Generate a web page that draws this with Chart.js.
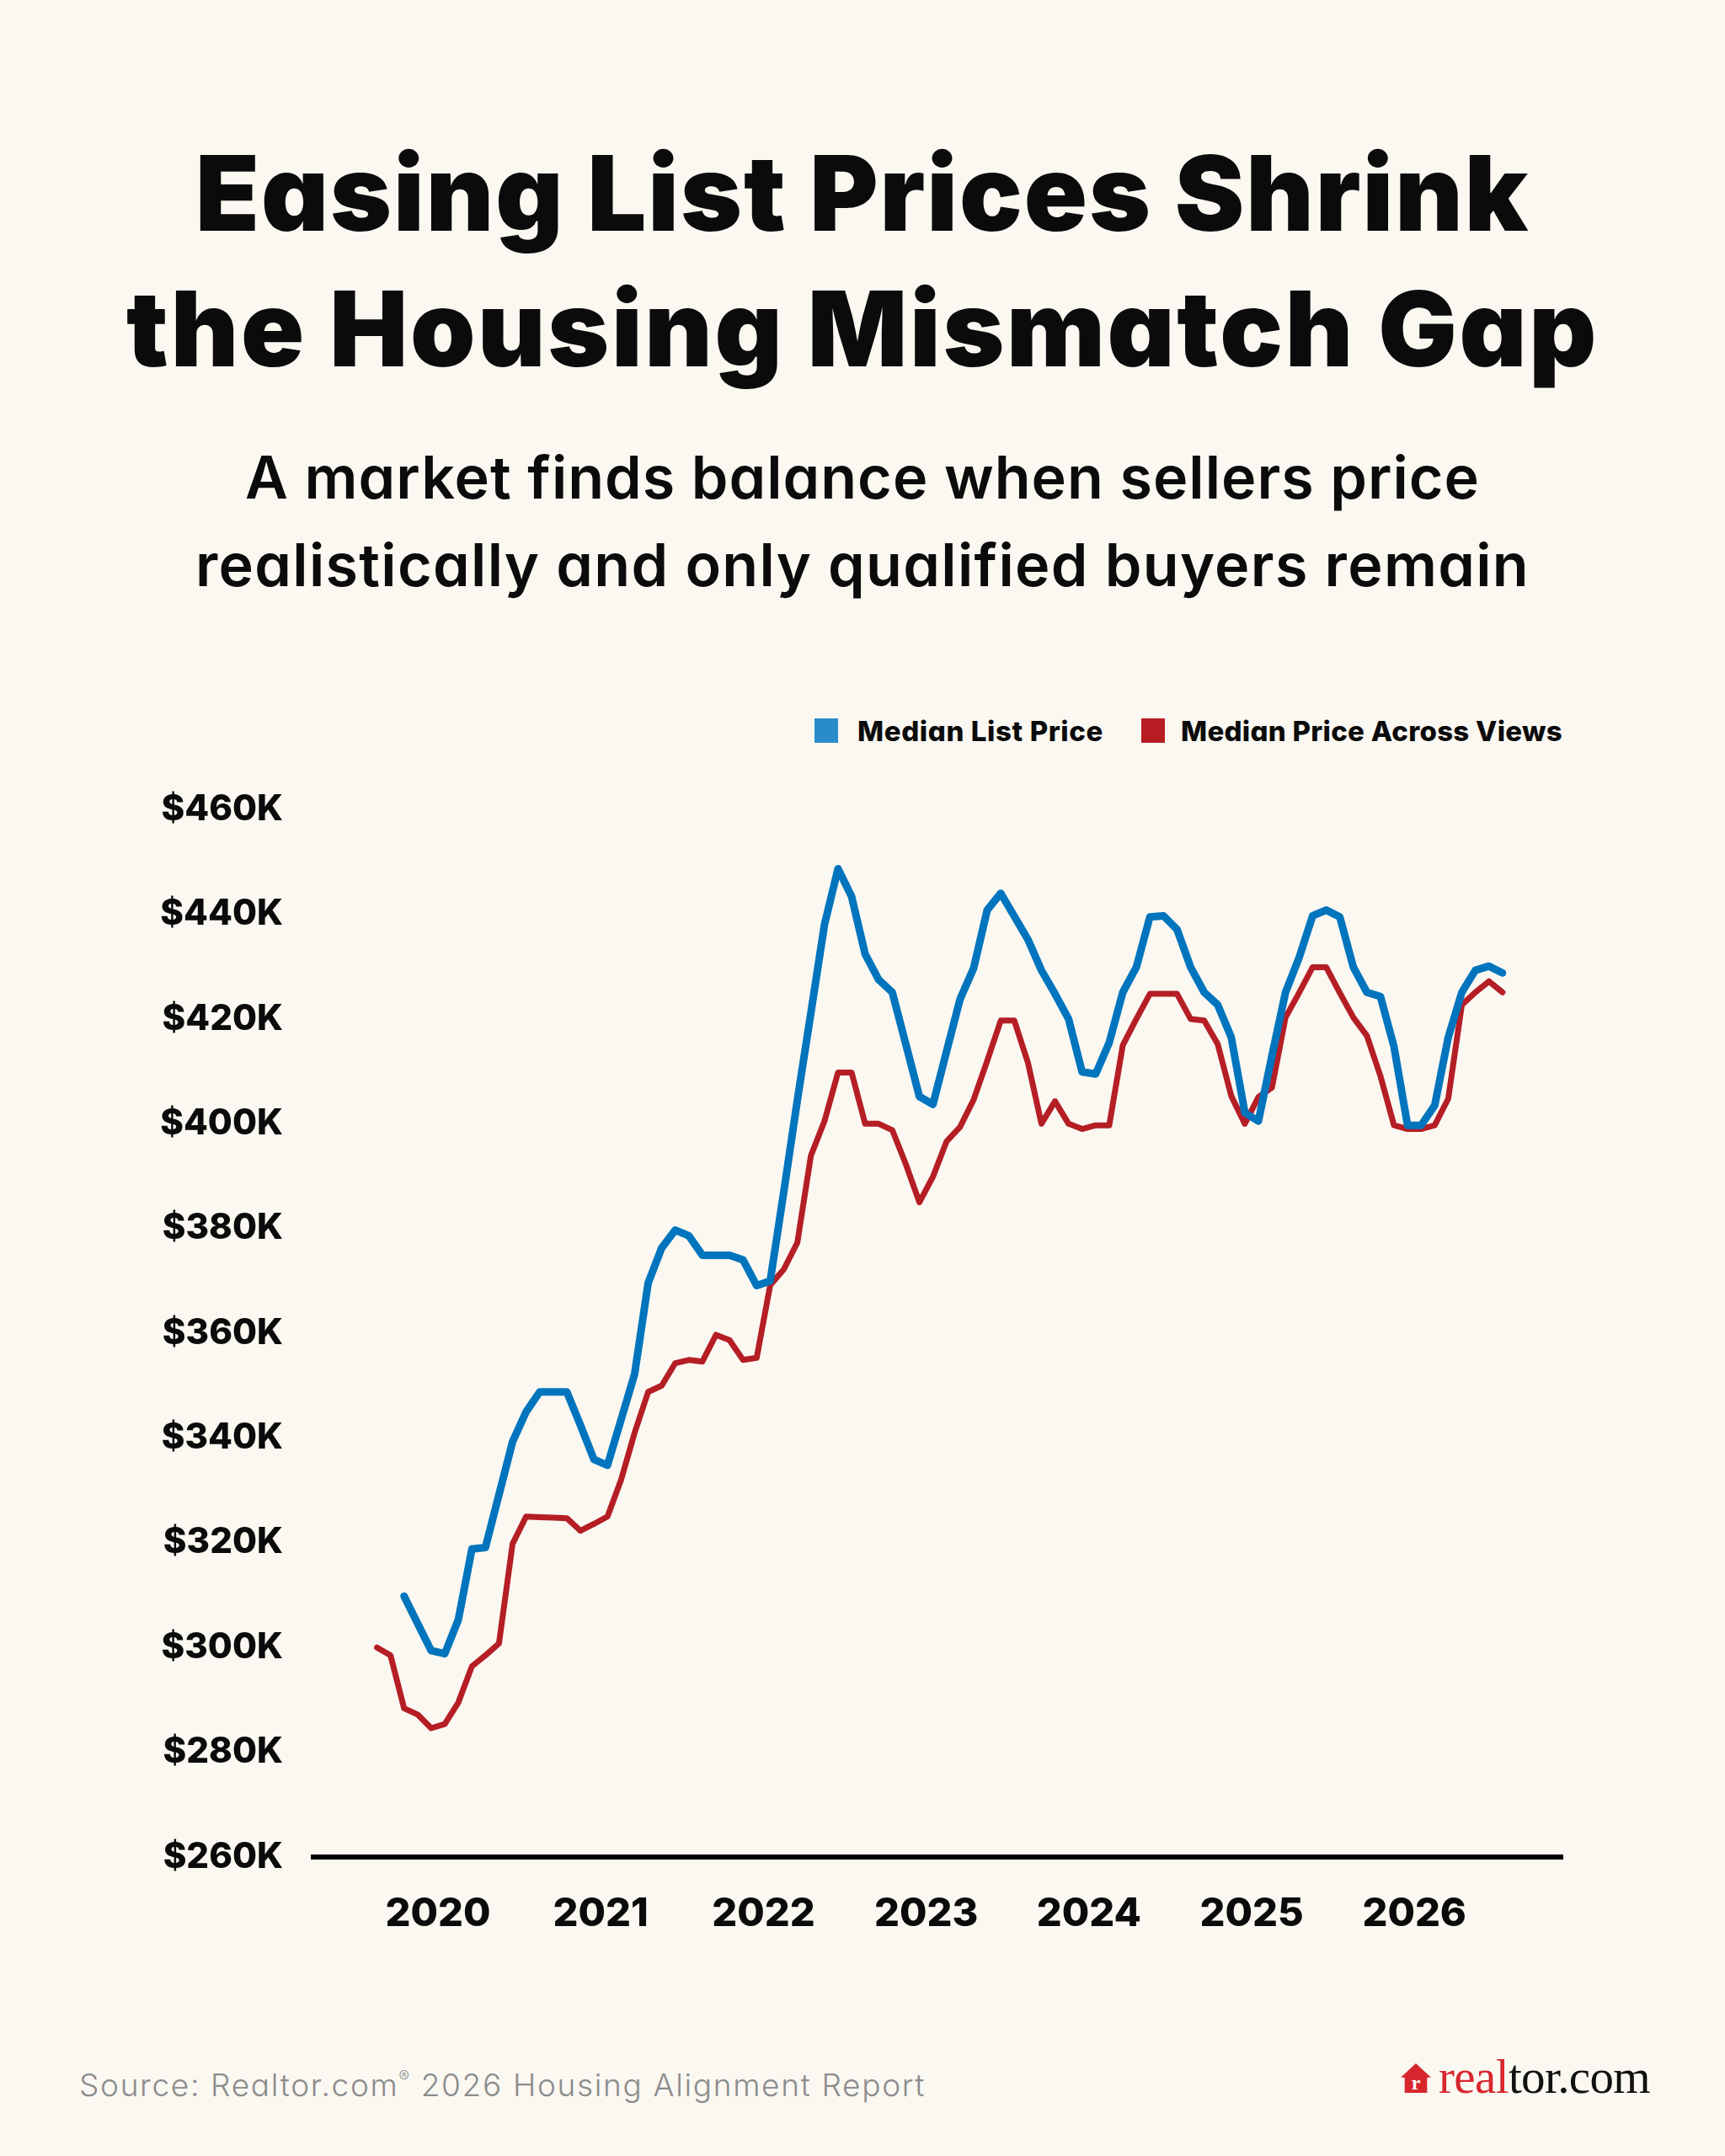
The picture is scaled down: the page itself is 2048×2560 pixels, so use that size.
<!DOCTYPE html>
<html>
<head>
<meta charset="utf-8">
<title>Easing List Prices Shrink the Housing Mismatch Gap</title>
<script src="https://cdn.jsdelivr.net/npm/chart.js@4.4.1/dist/chart.umd.min.js"></script>
<style>
  html, body { margin: 0; padding: 0; }
  body {
    width: 2048px; height: 2560px; position: relative; overflow: hidden;
    background: #FBF8F2; color: #0b0b0b;
    font-family: Inter, 'Noto Sans', sans-serif;
    font-feature-settings: 'cv11';
  }
  .line { position: absolute; left: 0; width: 2048px; text-align: center; line-height: 1; white-space: nowrap; }
  .line span { display: inline-block; }
  .title { font-size: 124px; font-weight: 900; }
  .sub { font-size: 70px; font-weight: 600; }
  .abs { position: absolute; line-height: 1; white-space: nowrap; }
  .legend-box { position: absolute; width: 28px; height: 29px; }
  .legend-text { font-size: 33px; font-weight: 800; }
  .source { font-size: 37px; font-weight: 300; color: #8c8c8c; }
  .source sup { font-size: 0.5em; vertical-align: 0.9em; }
  .logo-icon {
    position: absolute; left: 1663px; top: 2450px; width: 36px; height: 35px;
    background: #D7262D;
    clip-path: polygon(50% 0, 100% 48%, 87% 48%, 87% 100%, 13% 100%, 13% 48%, 0 48%);
    color: #fff; font: bold 24px 'Liberation Serif', serif; text-align: center; line-height: 46px;
  }
  .logo { font-family: 'Liberation Serif', 'DejaVu Serif', serif; font-size: 57px; }
  .logo .red { color: #D7262D; }
  .logo .blk { color: #111; }
  #chartWrap { position: absolute; left: 0; top: 900px; width: 1900px; height: 1400px; }
</style>
</head>
<body>

<div class="line title" style="top:167px"><span data-w="1584">Easing List Prices Shrink</span></div>
<div class="line title" style="top:328px"><span data-w="1748">the Housing Mismatch Gap</span></div>
<div class="line sub" style="top:532px"><span data-w="1466">A market finds balance when sellers price</span></div>
<div class="line sub" style="top:636px"><span data-w="1584">realistically and only qualified buyers remain</span></div>

<div class="legend-box" style="left:967px; top:853px; background:#2A8BCB"></div>
<div class="abs legend-text" style="left:1018px; top:852px" data-w="292">Median List Price</div>
<div class="legend-box" style="left:1355px; top:853px; background:#B71C22"></div>
<div class="abs legend-text" style="left:1402px; top:852px" data-w="453">Median Price Across Views</div>

<div id="chartWrap"><canvas id="priceChart" width="1900" height="1400"></canvas></div>

<div class="abs source" style="left:94px; top:2456px" data-w="1005">Source: Realtor.com<sup>®</sup> 2026 Housing Alignment Report</div>
<div class="logo-icon">r</div>
<div class="abs logo" style="left:1708px; top:2437px" data-w="251"><span class="red">real</span><span class="blk">tor.com</span></div>

<script>
// months of the monthly series (Aug 2019 - Jul 2026)
const months = [
  '2019-08','2019-09','2019-10','2019-11','2019-12',
  '2020-01','2020-02','2020-03','2020-04','2020-05','2020-06','2020-07','2020-08','2020-09','2020-10','2020-11','2020-12',
  '2021-01','2021-02','2021-03','2021-04','2021-05','2021-06','2021-07','2021-08','2021-09','2021-10','2021-11','2021-12',
  '2022-01','2022-02','2022-03','2022-04','2022-05','2022-06','2022-07','2022-08','2022-09','2022-10','2022-11','2022-12',
  '2023-01','2023-02','2023-03','2023-04','2023-05','2023-06','2023-07','2023-08','2023-09','2023-10','2023-11','2023-12',
  '2024-01','2024-02','2024-03','2024-04','2024-05','2024-06','2024-07','2024-08','2024-09','2024-10','2024-11','2024-12',
  '2025-01','2025-02','2025-03','2025-04','2025-05','2025-06','2025-07','2025-08','2025-09','2025-10','2025-11','2025-12',
  '2026-01','2026-02','2026-03','2026-04','2026-05','2026-06','2026-07'
];

// Median List Price ($K)
const listPrice = [
  null, null, 309.8, 304.6, 299.4,
  298.8, 305.3, 318.8, 319.1, 329.2, 339.3, 345.0, 348.8, 348.8, 348.8, 342.5, 335.9,
  334.8, 343.5, 352.2, 369.6, 376.3, 379.7, 378.6, 374.9, 374.9, 374.9, 374.0, 369.1,
  370.0, 387.0, 404.5, 421.2, 438.0, 448.7, 443.4, 432.4, 427.5, 425.1, 415.2, 405.2,
  403.7, 413.8, 423.8, 429.7, 440.8, 444.0, 439.6, 435.2, 429.3, 424.8, 420.0, 409.9,
  409.5, 415.5, 425.1, 429.9, 439.5, 439.7, 437.1, 429.9, 425.1, 422.7, 416.5, 402.1,
  400.5, 413.0, 425.1, 431.7, 439.7, 440.8, 439.5, 429.9, 425.1, 424.3, 414.7, 399.7,
  399.7, 403.5, 416.5, 425.1, 429.3, 430.1, 428.8
];

// Median Price Across Views ($K)
const viewPrice = [
  300.0, 298.5, 288.4, 287.2, 284.6,
  285.4, 289.5, 296.4, 298.5, 300.8, 319.8, 325.0, 324.9, 324.8, 324.7, 322.3, 323.6,
  325.0, 332.0, 341.0, 348.8, 350.0, 354.3, 354.9, 354.6, 359.7, 358.7, 354.9, 355.3,
  369.2, 372.2, 377.3, 393.9, 400.5, 409.8, 409.8, 400.0, 400.0, 398.8, 392.3, 385.0,
  389.9, 396.6, 399.4, 404.6, 412.0, 419.7, 419.7, 411.7, 400.0, 404.3, 400.0, 399.0,
  399.7, 399.7, 415.0, 420.0, 424.8, 424.8, 424.8, 420.0, 419.7, 415.2, 405.3, 400.0,
  405.1, 406.9, 420.3, 425.0, 429.9, 429.9, 425.0, 420.3, 416.8, 409.1, 399.7, 399.0,
  399.0, 399.7, 404.8, 422.7, 425.1, 427.2, 425.1
];

const yearTicks = [2020, 2021, 2022, 2023, 2024, 2025, 2026];

// a month sits in the middle of its slot on a year axis
function monthPos(m) {
  const [y, mo] = m.split('-').map(Number);
  return y + (mo - 0.5) / 12;
}

function fitWidths() {
  document.querySelectorAll('[data-w]').forEach(el => {
    const target = +el.dataset.w;
    const n = el.textContent.length;
    const w = el.getBoundingClientRect().width;
    el.style.letterSpacing = ((target - w) / n) + 'px';
  });
}

function buildChart() {
  const tickFont = { family: 'Inter', weight: 800 };
  const ctx = document.getElementById('priceChart').getContext('2d');
  new Chart(ctx, {
    type: 'line',
    data: {
      datasets: [
        {
          label: 'Median List Price',
          data: months.map((m, i) => ({ x: monthPos(m), y: listPrice[i] })),
          borderColor: '#0074BD',
          borderWidth: 9,
          pointRadius: 0,
          tension: 0,
          borderJoinStyle: 'round',
          borderCapStyle: 'round'
        },
        {
          label: 'Median Price Across Views',
          data: months.map((m, i) => ({ x: monthPos(m), y: viewPrice[i] })),
          borderColor: '#B51E25',
          borderWidth: 7,
          pointRadius: 0,
          tension: 0,
          borderJoinStyle: 'round',
          borderCapStyle: 'round'
        }
      ]
    },
    options: {
      responsive: false,
      animation: false,
      devicePixelRatio: 1,
      layout: { padding: { top: 55, right: 45, left: 0, bottom: 0 } },
      plugins: {
        legend: { display: false },
        tooltip: { enabled: false }
      },
      scales: {
        x: {
          type: 'linear',
          min: 2019.234,
          max: 2026.91,
          grid: { display: false, drawTicks: false },
          border: { display: true, color: '#000', width: 6 },
          afterBuildTicks: s => { s.ticks = yearTicks.map(v => ({ value: v })); },
          afterFit: s => { s.height = 95; },
          ticks: {
            autoSkip: false,
            maxRotation: 0,
            padding: 40,
            color: '#0b0b0b',
            font: Object.assign({ size: 47 }, tickFont),
            callback: v => String(v)
          }
        },
        y: {
          min: 260,
          max: 460,
          grid: { display: false, drawTicks: false },
          border: { display: false },
          afterFit: s => { s.width = 372; },
          ticks: {
            stepSize: 20,
            padding: 36,
            color: '#0b0b0b',
            font: Object.assign({ size: 42 }, tickFont),
            callback: v => '$' + v + 'K'
          }
        }
      }
    }
  });
}

document.fonts.ready.then(() => {
  fitWidths();
  buildChart();
});
</script>
</body>
</html>
